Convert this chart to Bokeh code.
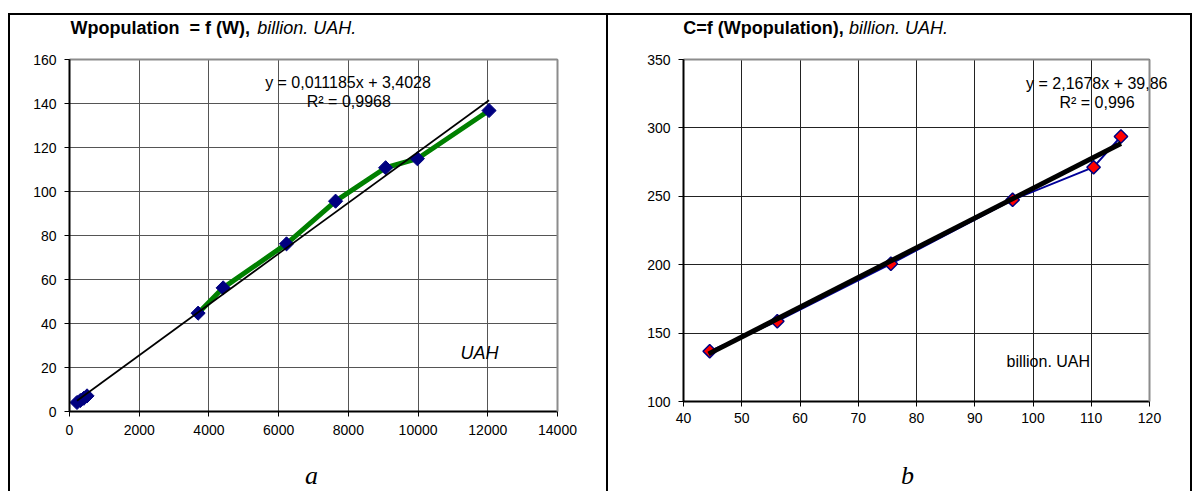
import numpy as np
from bokeh.plotting import figure
from bokeh.models import Label, Range1d, FixedTicker, LinearAxis, Grid
from bokeh.layouts import row
from bokeh.embed import file_html
from bokeh.resources import INLINE

# ---------------- data: panel a ----------------
w_total = [215, 310, 410, 503, 3690, 4408, 6226, 7633, 9069, 9980, 12036]
w_pop = [4.1, 5.0, 6.0, 7.1, 44.7, 56.2, 76.2, 95.6, 110.8, 114.9, 136.8]
green_start = 4
trend_a_x = [215, 12036]
trend_a_y = [4.9, 141.5]
xticks_a = [0, 2000, 4000, 6000, 8000, 10000, 12000, 14000]
yticks_a = [0, 20, 40, 60, 80, 100, 120, 140, 160]

# ---------------- data: panel b ----------------
wpop_b = [44.5, 56.1, 75.6, 96.5, 110.4, 115.1]
c_b = [136.8, 158.7, 200.7, 247.4, 271.3, 293.7]
trend_b_x = [44.3, 115.1]
trend_b_y = [134.8, 288.6]
xticks_b = [40, 50, 60, 70, 80, 90, 100, 110, 120]
yticks_b = [100, 150, 200, 250, 300, 350]

FONT = "Liberation Sans"
SERIF = "Liberation Serif"


def make_panel(width, height, plot_box, xlim, ylim, xt, yt, grid_color, xstand):
    # plot_box: (left, right, top, bottom) pixel offsets of the plot area inside the canvas
    L, R, T, B = plot_box
    sx = (xlim[1] - xlim[0]) / (R - L)
    sy = (ylim[1] - ylim[0]) / (B - T)
    xr = (xlim[0] - L * sx, xlim[1] + (width - R) * sx)
    yr = (ylim[0] - (height - B) * sy, ylim[1] + T * sy)
    p = figure(width=width, height=height, x_range=Range1d(*xr), y_range=Range1d(*yr),
               x_axis_location=None, y_axis_location=None,
               output_backend="svg", toolbar_location=None, min_border=0)
    p.center = []
    p.outline_line_color = None
    p.background_fill_color = "white"
    p.border_fill_color = "white"

    gx = Grid(dimension=0, ticker=FixedTicker(ticks=xt), grid_line_color=grid_color,
              grid_line_width=1)
    gy = Grid(dimension=1, ticker=FixedTicker(ticks=yt), grid_line_color=grid_color,
              grid_line_width=1)
    if "cross_bounds" in Grid.properties():
        gx.cross_bounds = tuple(ylim)
        gy.cross_bounds = tuple(xlim)
        p.add_layout(gx)
        p.add_layout(gy)
    else:
        p.segment(x0=xt, y0=[ylim[0]] * len(xt), x1=xt, y1=[ylim[1]] * len(xt),
                  line_color=grid_color, line_width=1, level="underlay")
        p.segment(x0=[xlim[0]] * len(yt), y0=yt, x1=[xlim[1]] * len(yt), y1=yt,
                  line_color=grid_color, line_width=1, level="underlay")

    # frame edges (top / right) in gray
    for loc, fl, bnd in (("above", ylim[1], tuple(xlim)), ("right", xlim[1], tuple(ylim))):
        ax = LinearAxis(fixed_location=fl, bounds=bnd, ticker=FixedTicker(ticks=[]),
                        axis_line_color="#8c8c8c", axis_line_width=2,
                        major_tick_line_color=None, minor_tick_line_color=None,
                        major_label_text_font_size="0px")
        p.add_layout(ax, loc)

    xax = LinearAxis(fixed_location=ylim[0], bounds=tuple(xlim), ticker=FixedTicker(ticks=xt))
    yax = LinearAxis(fixed_location=xlim[0], bounds=tuple(ylim), ticker=FixedTicker(ticks=yt))
    for ax in (xax, yax):
        ax.major_label_text_font = FONT
        ax.major_label_text_font_size = "14px"
        ax.major_label_text_color = "black"
        ax.axis_line_color = "black"
        ax.axis_line_width = 2
        ax.major_tick_line_color = "black"
        ax.major_tick_in = 0
        ax.major_tick_out = 5
        ax.minor_tick_line_color = None
    xax.major_label_standoff = xstand
    yax.major_label_standoff = 8
    p.add_layout(xax, "below")
    p.add_layout(yax, "left")
    return p


def lab(p, x, y, text, size, style="normal", align="left", font=FONT):
    p.add_layout(Label(x=x, y=y, text=text, text_font=font, text_font_style=style,
                       text_font_size=size, text_color="black", text_align=align,
                       text_baseline="alphabetic"))


# ---------------- panel a ----------------
pa = make_panel(600, 478, (59, 547, 44, 396), (0, 14000), (0, 160),
                xticks_a, yticks_a, "#555555", 8)
pa.line(w_total[green_start:], w_pop[green_start:], line_color="#008000", line_width=5)
pa.scatter(w_total, w_pop, marker="square", size=10, angle=np.pi / 4,
           fill_color="#000080", line_color="#000080")
pa.line(trend_a_x, trend_a_y, line_color="black", line_width=1.7)

lab(pa, 29, 174.4, "Wpopulation\u00a0 = f (W),", "18px", "bold")
lab(pa, 5385, 174.4, "billion. UAH.", "18px", "italic")
lab(pa, 7990, 149.4, "y = 0,011185x + 3,4028", "16px", align="center")
lab(pa, 8013, 141.0, "R\u00b2 = 0,9968", "16px", align="center")
lab(pa, 11217, 26.7, "UAH", "18px", "italic")
lab(pa, 6943, -29.0, "a", "26px", "italic", "center", SERIF)
pa.margin = (13, 0, 0, 8)
pa.styles = {"border-top": "2px solid black", "border-left": "2px solid black",
             "border-right": "2px solid black"}

# ---------------- panel b ----------------
pb = make_panel(584, 478, (75, 541, 44, 386), (40, 120), (100, 350),
                xticks_b, yticks_b, "#222222", 6)
pb.line(wpop_b, c_b, line_color="#000099", line_width=2)
pb.scatter(wpop_b, c_b, marker="square", size=9.5, angle=np.pi / 4,
           fill_color="#ff0000", line_color="#000080", line_width=1.5)
pb.line(trend_b_x, trend_b_y, line_color="black", line_width=5)

lab(pb, 39.95, 373.2, "C=f (Wpopulation),", "18px", "bold")
lab(pb, 68.4, 373.2, "billion. UAH.", "18px", "italic")
lab(pb, 110.95, 332.3, "y = 2,1678x + 39,86", "16px", align="center")
lab(pb, 110.99, 318.8, "R\u00b2 = 0,996", "16px", align="center")
lab(pb, 95.45, 129.0, "billion. UAH", "16px")
lab(pb, 78.45, 46.1, "b", "26px", "italic", "center", SERIF)
pb.margin = (13, 0, 0, 0)
pb.styles = {"border-top": "2px solid black", "border-right": "2px solid black"}

layout = row(pa, pb)
open("out.html", "w").write(file_html(layout, INLINE))
